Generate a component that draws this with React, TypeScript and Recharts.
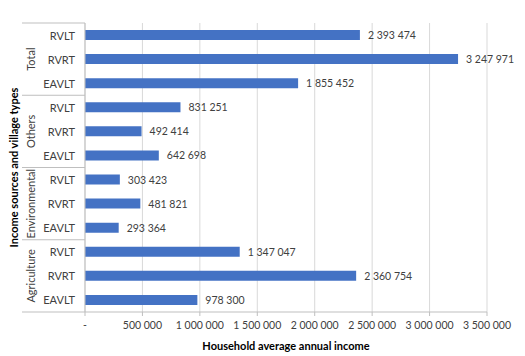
import { BarChart, Bar, XAxis, YAxis, CartesianGrid, LabelList } from 'recharts';

const groups = ['Total', 'Others', 'Environmental', 'Agriculture'];
const villageTypes = ['RVLT', 'RVRT', 'EAVLT'];
const totalValues = [2393474, 3247971, 1855452];
const othersValues = [831251, 492414, 642698];
const environmentalValues = [303423, 481821, 293364];
const agricultureValues = [1347047, 2360754, 978300];
const xTicks = [0, 500000, 1000000, 1500000, 2000000, 2500000, 3000000, 3500000];

const groupValues = [totalValues, othersValues, environmentalValues, agricultureValues];

const data = groups.flatMap((g, gi) =>
  villageTypes.map((v, vi) => ({
    id: `${g}-${v}`,
    group: g,
    type: v,
    value: groupValues[gi][vi],
  }))
);

const FONT = 'Lato, "Open Sans", sans-serif';
const fmt = (n: number) => (n === 0 ? '-' : String(n).replace(/\B(?=(\d{3})+(?!\d))/g, ' '));

const W = 517;
const H = 348;
const TOP = 15;
const BOTTOM = 304;
const AXIS_X = 77;
const BAND = (BOTTOM - TOP) / data.length;

const CategoryTick = (props: any) => {
  const { y, payload, index } = props;
  const row = data[index] || data.find(d => d.id === payload.value);
  const pos = index % 3;
  return (
    <g>
      <text x={AXIS_X - 10} y={y} textAnchor="end" dominantBaseline="central" fontSize={11} fill="#404040" fontFamily={FONT}>
        {row ? row.type : ''}
      </text>
      {pos === 0 && (
        <line x1={14} x2={AXIS_X} y1={y - BAND / 2} y2={y - BAND / 2} stroke="#bfbfbf" />
      )}
      {index === data.length - 1 && (
        <line x1={14} x2={AXIS_X} y1={y + BAND / 2} y2={y + BAND / 2} stroke="#bfbfbf" />
      )}
      {pos === 1 && row && (
        <text
          x={22}
          y={y}
          transform={`rotate(-90 22 ${y})`}
          textAnchor="middle"
          dominantBaseline="central"
          fontSize={11}
          fill="#404040"
          fontFamily={FONT}
        >
          {row.group}
        </text>
      )}
    </g>
  );
};

// plain text so long values don't wrap
const ValueLabel = (props: any) => {
  const { x, y, width, height, value } = props;
  return (
    <text
      x={Number(x) + Number(width) + 8}
      y={Number(y) + Number(height) / 2}
      dominantBaseline="central"
      fontSize={10.5}
      fill="#404040"
      fontFamily={FONT}
    >
      {fmt(Number(value))}
    </text>
  );
};

export default function App() {
  return (
    <div style={{ width: W, height: H, background: '#fff' }}>
      <BarChart
        width={W}
        height={H}
        data={data}
        layout="vertical"
        margin={{ top: TOP, right: 38, bottom: 0, left: 0 }}
        barCategoryGap={0}
      >
        <CartesianGrid horizontal={false} stroke="#d9d9d9" />
        <XAxis
          type="number"
          domain={[0, 3500000]}
          ticks={xTicks}
          tickFormatter={fmt}
          interval={0}
          height={H - BOTTOM}
          stroke="#bfbfbf"
          tickSize={4}
          tickMargin={6}
          tick={{ fontSize: 10.5, fill: '#404040', fontFamily: FONT }}
        />
        <YAxis
          type="category"
          dataKey="id"
          width={AXIS_X}
          stroke="#bfbfbf"
          tickLine={false}
          interval={0}
          tick={<CategoryTick />}
        />
        <Bar dataKey="value" fill="#4472c4" barSize={10} isAnimationActive={false}>
          <LabelList dataKey="value" content={<ValueLabel />} />
        </Bar>
        <text
          x={5}
          y={(TOP + BOTTOM) / 2}
          transform={`rotate(-90 5 ${(TOP + BOTTOM) / 2})`}
          textAnchor="middle"
          dominantBaseline="central"
          fontSize={11}
          fontWeight="bold"
          fill="#000"
          fontFamily={FONT}
        >
          Income sources and village types
        </text>
        <text
          x={(AXIS_X + W - 38) / 2}
          y={337}
          textAnchor="middle"
          dominantBaseline="central"
          fontSize={11}
          fontWeight="bold"
          fill="#000"
          fontFamily={FONT}
        >
          Household average annual income
        </text>
      </BarChart>
    </div>
  );
}
